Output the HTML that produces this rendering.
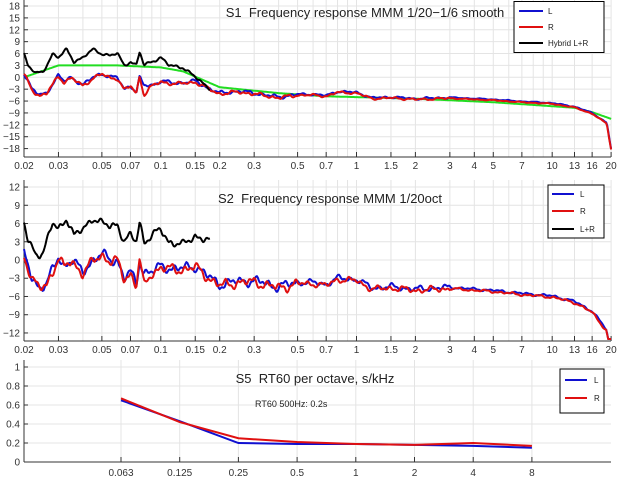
<!DOCTYPE html>
<html><head><meta charset="utf-8"><style>
html,body{margin:0;padding:0;background:#fff;width:627px;height:488px;overflow:hidden}
svg{display:block;font-family:"Liberation Sans",sans-serif}
</style></head><body>
<svg id="s" width="627" height="488" xmlns="http://www.w3.org/2000/svg"></svg>
<script>
const S=document.getElementById('s');let h='';
const X0=24,X1=611;
const xf=f=>X0+195.7*Math.log10(f/0.02);
const y1=d=>77.3-3.96*d, y2=d=>260-6.08*Math.max(d,-13);
const y3=v=>462-95*v;
const fticks=[0.02,0.03,0.05,0.07,0.1,0.15,0.2,0.3,0.5,0.7,1,1.5,2,3,4,5,7,10,13,16,20];
const ftick2=[0.04,0.06,0.08,0.09,0.4,0.6,0.8,0.9,6,8,9];
function grid(top,bot,yfn,vals,lab){
 for(const f of fticks.concat(ftick2)){h+=`<line x1="${xf(f)}" y1="${top}" x2="${xf(f)}" y2="${bot}" stroke="#e4e4e4" stroke-width="1"/>`;}
 for(const v of vals){const y=yfn(v);h+=`<line x1="${X0}" y1="${y}" x2="${X1}" y2="${y}" stroke="#e4e4e4"/>`;
  h+=`<line x1="${X0}" y1="${y}" x2="${X0+4}" y2="${y}" stroke="#333"/>`;
  h+=`<text x="${X0-4}" y="${y+3.5}" font-size="10" fill="#333" text-anchor="end">${v<0?'−'+(-v):v}</text>`;}
 for(const f of fticks){const x=xf(f);h+=`<line x1="${x}" y1="${bot}" x2="${x}" y2="${bot-5}" stroke="#333"/>`;
  if(lab)h+=`<text x="${x}" y="${bot+12}" font-size="10" fill="#333" text-anchor="middle">${f}</text>`;}
 h+=`<line x1="${X0}" y1="${top}" x2="${X0}" y2="${bot}" stroke="#333"/><line x1="${X0}" y1="${bot}" x2="${X1}" y2="${bot}" stroke="#333"/>`;
}
function interp(k,f){const l=Math.log10(f);for(let i=0;i<k.length-1;i++){const a=Math.log10(k[i][0]),b=Math.log10(k[i+1][0]);if(l>=a&&l<=b){const t=(l-a)/(b-a);return k[i][1]+(k[i+1][1]-k[i][1])*t;}}return k[k.length-1][1];}
function curve(k,yfn,col,noise,seed,fmax,w){let p='';const fm=fmax||20;const n=600;
 for(let i=0;i<=n;i++){const f=0.02*Math.pow(1000,i/n);if(f>fm*1.0001)break;const l=Math.log10(f);
  let d=interp(k,f)+noise*(Math.sin(l*90+seed)*0.5+Math.sin(l*210+seed*2)*0.3+Math.sin(l*47+seed*3)*0.4)*(f>3?0.25:(f>0.5?0.6:1));
  p+=(i?'L':'M')+xf(f).toFixed(1)+','+yfn(d).toFixed(1);}
 h+=`<path d="${p}" fill="none" stroke="${col}" stroke-width="${w||2}" stroke-linejoin="round"/>`;}
const LR=[[0.02,1],[0.022,-3],[0.024,-4.5],[0.026,-4],[0.03,0.5],[0.032,-1],[0.035,0],[0.04,-2],[0.045,0],[0.05,1],[0.055,0],[0.06,0],[0.065,-3],[0.07,-2],[0.075,-4],[0.078,0],[0.082,-2],[0.09,-2],[0.1,-1],[0.12,-1.5],[0.15,-1],[0.18,-3],[0.2,-4],[0.25,-3.5],[0.3,-4],[0.4,-5],[0.5,-4.3],[0.6,-4.3],[0.7,-4.6],[0.8,-3.6],[1,-3.8],[1.2,-5.2],[1.5,-5],[2,-5.4],[3,-5.1],[5,-5.6],[7,-6.1],[10,-6.5],[13,-7.4],[16,-9],[19,-11.5],[20,-18]];
const RR=LR.map(p=>[p[0],p[0]==0.082?-4.5:(p[0]==0.078?0.5:p[1]-0.2)]);
const BK=[[0.02,6],[0.021,3],[0.023,1],[0.025,1.2],[0.028,6],[0.03,5],[0.033,7],[0.036,4],[0.04,5],[0.045,7],[0.05,6],[0.055,5.5],[0.06,6],[0.065,3],[0.07,4],[0.075,3],[0.078,6.5],[0.082,3],[0.09,4],[0.1,5],[0.11,3],[0.13,2.5],[0.15,0],[0.18,-3]];
const GR=[[0.02,0],[0.03,3],[0.06,3],[0.1,2.5],[0.13,1.5],[0.2,-2.5],[0.4,-4],[0.7,-4.8],[1,-5],[2,-5.4],[5,-6.3],[10,-7.3],[13,-7.7],[16,-8.8],[20,-10.5]];
// Plot 1
grid(0,157,y1,[18,15,12,9,6,3,0,-3,-6,-9,-12,-15,-18],true);
curve(GR,y1,'#22dd22',0,0,20,2);
curve(LR,y1,'#1010d0',0.5,1);
curve(RR,y1,'#e01010',0.5,2);
curve(BK,y1,'#000',0.4,3,0.18);
h+=`<text x="365" y="17" font-size="13" fill="#222" text-anchor="middle" xml:space="preserve">S1  Frequency response MMM 1/20−1/6 smooth</text>`;
h+=`<rect x="514" y="1.5" width="90" height="51" fill="#fff" stroke="#000"/>`;
[['L','#1010d0',11],['R','#e01010',27],['Hybrid L+R','#000',43]].forEach(a=>{h+=`<line x1="519" y1="${a[2]}" x2="543" y2="${a[2]}" stroke="${a[1]}" stroke-width="2"/><text x="548" y="${a[2]+3}" font-size="8" fill="#222">${a[0]}</text>`;});
// Plot 2
grid(180,341,y2,[12,9,6,3,0,-3,-6,-9,-12],true);
const BK2=BK.map(p=>[p[0],p[1]]);BK2[BK2.length-1]=[0.18,3];BK2[BK2.length-2]=[0.15,4];
const LR2=LR.map(p=>[p[0],p[0]>=0.3&&p[0]<19?p[1]+0.6:p[1]]);const RR2=RR.map(p=>[p[0],p[0]>=0.3&&p[0]<19?p[1]+0.6:p[1]]);
curve(LR2,y2,'#1010d0',0.9,4);
curve(RR2,y2,'#e01010',0.9,5);
curve(BK2,y2,'#000',0.7,6,0.18);
h+=`<text x="330" y="203" font-size="13" fill="#222" text-anchor="middle" xml:space="preserve">S2  Frequency response MMM 1/20oct</text>`;
h+=`<rect x="548" y="185" width="56" height="53" fill="#fff" stroke="#000"/>`;
[['L','#1010d0',194],['R','#e01010',211],['L+R','#000',229]].forEach(a=>{h+=`<line x1="552" y1="${a[2]}" x2="574" y2="${a[2]}" stroke="${a[1]}" stroke-width="2"/><text x="580" y="${a[2]+3}" font-size="8" fill="#222">${a[0]}</text>`;});
// Plot 3
const oct=[0.063,0.125,0.25,0.5,1,2,4,8];
oct.forEach((f,i)=>{const x=121+58.7*i;h+=`<line x1="${x}" y1="360" x2="${x}" y2="462" stroke="#e4e4e4"/><line x1="${x}" y1="462" x2="${x}" y2="457" stroke="#333"/><text x="${x}" y="476" font-size="10" fill="#333" text-anchor="middle">${f}</text>`;});
[1,0.8,0.6,0.4,0.2,0].forEach(v=>{const y=y3(v);h+=`<line x1="${X0}" y1="${y}" x2="${X1}" y2="${y}" stroke="#e4e4e4"/><line x1="${X0}" y1="${y}" x2="${X0+4}" y2="${y}" stroke="#333"/><text x="${X0-4}" y="${y+3.5}" font-size="10" fill="#333" text-anchor="end">${v}</text>`;});
h+=`<line x1="${X0}" y1="360" x2="${X0}" y2="462" stroke="#333"/><line x1="${X0}" y1="462" x2="${X1}" y2="462" stroke="#333"/>`;
const L3=[0.65,0.43,0.2,0.19,0.19,0.18,0.17,0.15],R3=[0.67,0.42,0.25,0.21,0.19,0.18,0.2,0.17];
[[L3,'#1010d0'],[R3,'#e01010']].forEach(a=>{h+=`<polyline points="${a[0].map((v,i)=>(121+58.7*i)+','+y3(v)).join(' ')}" fill="none" stroke="${a[1]}" stroke-width="2"/>`;});
h+=`<text x="315" y="383" font-size="13" fill="#222" text-anchor="middle" xml:space="preserve">S5  RT60 per octave, s/kHz</text>`;
h+=`<text x="255" y="407" font-size="9" fill="#222">RT60 500Hz: 0.2s</text>`;
h+=`<rect x="560" y="369" width="44" height="44" fill="#fff" stroke="#000"/>`;
[['L','#1010d0',380],['R','#e01010',398]].forEach(a=>{h+=`<line x1="565" y1="${a[2]}" x2="587" y2="${a[2]}" stroke="${a[1]}" stroke-width="2"/><text x="594" y="${a[2]+3}" font-size="8" fill="#222">${a[0]}</text>`;});
S.innerHTML=h;
</script>
</body></html>
